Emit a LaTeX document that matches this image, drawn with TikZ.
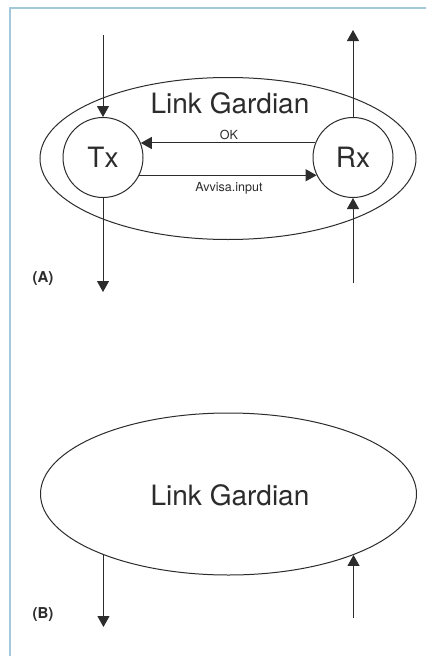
\documentclass[tikz,border=0pt]{standalone}
\usepackage{fontspec}
\setmainfont{TeX Gyre Heros}
\usetikzlibrary{arrows.meta,shapes.geometric}

\definecolor{ink}{HTML}{2C2C2C}
\definecolor{framec}{HTML}{A3C8DA}

\tikzset{
  flow/.style={draw=ink, line width=1pt, -{Triangle[length=11pt,width=12pt]}},
  station/.style={circle, draw=ink, line width=1pt, minimum size=80pt, inner sep=0pt,
                  font=\fontsize{28}{30}\selectfont, text=ink},
  guardian/.style={ellipse, draw=ink, line width=1pt, minimum width=376pt, minimum height=162pt,
                   inner sep=0pt},
  bigtext/.style={font=\fontsize{28}{30}\selectfont, text=ink},
  smalltext/.style={font=\fontsize{12.5}{14}\selectfont, text=ink},
  tag/.style={font=\bfseries\fontsize{15}{17}\selectfont, text=ink}
}

\begin{document}
\begin{tikzpicture}[x=1pt, y=-1pt]
  \useasboundingbox (0,0) rectangle (426,656);
  \fill[white] (0,0) rectangle (426,656);

  % frame edges
  \draw[framec, line width=2pt] (10,656) -- (10,8) -- (426,8);

  % ---------- (A) ----------
  \node[guardian] (lgA) at (228,158.5) {};
  \node[bigtext] (lgAlabel) at (230,103) {Link Gardian};
  \node[station] (tx) at (103,157.5) {Tx};
  \node[station] (rx) at (353,157.5) {Rx};

  \coordinate (txin)   at (103,35);
  \coordinate (txout)  at (103,292);
  \coordinate (rxout)  at (353,30);
  \coordinate (rxin)   at (353,283);

  \draw[flow] (txin) -- (tx.north);
  \draw[flow] (tx.south) -- (txout);
  \draw[flow] (rx.north) -- (rxout);
  \draw[flow] (rxin) -- (rx.south);

  \draw[flow] (rx.159) -- (tx.21);
  \draw[flow] (tx.-26) -- (rx.206);
  \node[smalltext] (ok) at (229,135) {OK};
  \node[smalltext] (avv) at (229,188.5) {Avvisa.input};

  \node[tag] (tagA) at (43,279) {(A)};

  % ---------- (B) ----------
  \node[guardian] (lgB) at (228.5,494) {};
  \node[bigtext] (lgBlabel) at (230,495) {Link Gardian};

  \coordinate (txoutB) at (105,627);
  \coordinate (rxinB)  at (353,618);

  \draw[flow] (lgB.206) -- (lgB.206 |- txoutB);
  \draw[flow] (lgB.334 |- rxinB) -- (lgB.334);

  \node[tag] (tagB) at (43,615) {(B)};
\end{tikzpicture}
\end{document}
